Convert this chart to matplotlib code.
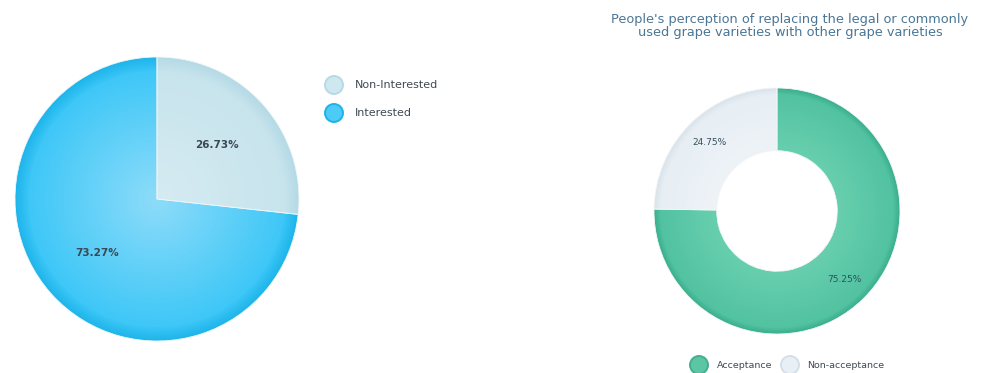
import numpy as np
import matplotlib
matplotlib.use('Agg')
import matplotlib.pyplot as plt
from matplotlib.colors import to_rgb
from matplotlib.patches import Circle

# interest in the topic
interest_labels = ['Non-Interested', 'Interested']
interest_values = [26.73, 73.27]

# perception of replacing grape varieties
perception_labels = ['Acceptance', 'Non-acceptance']
perception_values = [75.25, 24.75]
perception_title = ("People's perception of replacing the legal or commonly\n"
                    "used grape varieties with other grape varieties")

W, H = 982, 373


def radial_fill(ax, wedge, inner, outer, rim, r0=0.0):
    # shade a wedge from the centre outwards, darker near the rim
    n = 400
    x = np.linspace(-1, 1, n)
    xx, yy = np.meshgrid(x, x)
    r = np.clip((np.hypot(xx, yy) - r0) / (1 - r0), 0, 1)
    a, b, c = np.array(to_rgb(inner)), np.array(to_rgb(outer)), np.array(to_rgb(rim))
    t = r[..., None]
    img = a + (b - a) * t
    edge = np.clip((r - 0.9) / 0.1, 0, 1)[..., None]
    img = img + (c - img) * edge
    im = ax.imshow(img, extent=(-1, 1, -1, 1), origin='lower', zorder=1,
                   interpolation='bilinear')
    im.set_clip_path(wedge)


def box(cx, cy, r):
    return [(cx - r) / W, (H - cy - r) / H, 2 * r / W, 2 * r / H]


fig = plt.figure(figsize=(W / 100, H / 100), dpi=100)

# pie on the left
ax1 = fig.add_axes(box(157, 199, 142))
wedges, _ = ax1.pie(interest_values, startangle=90, counterclock=False,
                    radius=1.0, wedgeprops=dict(linewidth=0.6, edgecolor='#eef6f9'))
shades1 = [('#d6ebf2', '#c6e3ec', '#b4dae6'), ('#8edcf9', '#36c5f7', '#1fb5ea')]
for w, (c_in, c_out, c_rim) in zip(wedges, shades1):
    w.set_facecolor('none')
    radial_fill(ax1, w, c_in, c_out, c_rim)
    w.set_zorder(2)
start = 90.0
for v in interest_values:
    mid = np.radians(start - v * 3.6 / 2)
    ax1.text(0.57 * np.cos(mid), 0.57 * np.sin(mid), f'{v:.2f}%', ha='center',
             va='center', fontsize=7.5, fontweight='bold', color='#3a4856', zorder=3)
    start -= v * 3.6
ax1.set_xlim(-1, 1)
ax1.set_ylim(-1, 1)
ax1.set_aspect('auto')
ax1.axis('off')

# donut on the right
ax2 = fig.add_axes(box(777, 211, 123))
hole = 0.49
wedges2, _ = ax2.pie(perception_values, startangle=90, counterclock=False,
                     radius=1.0, wedgeprops=dict(width=1 - hole, linewidth=0.6,
                                                 edgecolor='#f2f6f8'))
shades2 = [('#68cfae', '#50c1a0', '#3aae8c'), ('#eef3f7', '#e6eef4', '#d9e3ea')]
for w, (c_in, c_out, c_rim) in zip(wedges2, shades2):
    w.set_facecolor('none')
    radial_fill(ax2, w, c_in, c_out, c_rim, r0=hole)
    w.set_zorder(2)
start = 90.0
for v in perception_values:
    mid = np.radians(start - v * 3.6 / 2)
    rr = 0.78
    ax2.text(rr * np.cos(mid), rr * np.sin(mid), f'{v:.2f}%', ha='center',
             va='center', fontsize=6.5, color='#35505e', zorder=3)
    start -= v * 3.6
ax2.set_xlim(-1, 1)
ax2.set_ylim(-1, 1)
ax2.set_aspect('auto')
ax2.axis('off')

# overlay in pixel units for titles and legends
ov = fig.add_axes([0, 0, 1, 1], zorder=5)
ov.set_xlim(0, W)
ov.set_ylim(H, 0)
ov.axis('off')
ov.patch.set_alpha(0)

ov.text(790, 26, perception_title, ha='center', va='center', fontsize=9.3,
        color='#4a7696', linespacing=1.05)

# left legend, stacked
leg1 = [('#cfe7ef', '#b5dbe6'), ('#4ccbf7', '#1db3ea')]
for i, (lab, (fc, ec)) in enumerate(zip(interest_labels, leg1)):
    y = 85 + i * 28
    ov.add_patch(Circle((334, y), 9, facecolor=fc, edgecolor=ec, lw=1.4))
    ov.text(355, y, lab, ha='left', va='center', fontsize=8, color='#3f4a55')

# right legend, in a row
leg2 = [('#5cc5a3', '#42b08f'), ('#e9f0f5', '#d4dfe7')]
xs = [(699, 717), (790, 807)]
for lab, (fc, ec), (cx, tx) in zip(perception_labels, leg2, xs):
    ov.add_patch(Circle((cx, 365), 9, facecolor=fc, edgecolor=ec, lw=1.4))
    ov.text(tx, 365, lab, ha='left', va='center', fontsize=6.8, color='#3f4a55')

fig.savefig('out.png', dpi=100, facecolor='white')
